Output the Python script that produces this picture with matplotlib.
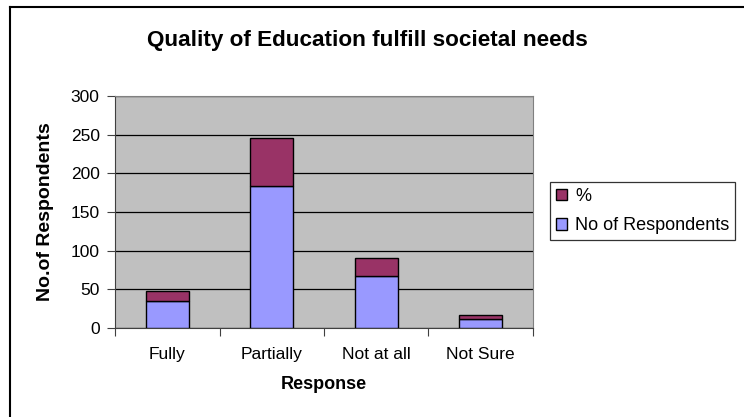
import numpy as np
import matplotlib
matplotlib.use('Agg')
import matplotlib.pyplot as plt
from matplotlib.lines import Line2D

plt.rcParams['font.family'] = ['Liberation Sans', 'DejaVu Sans']

categories = ['Fully', 'Partially', 'Not at all', 'Not Sure']
respondents = [35, 183, 67, 11]
percent = [13, 63, 23, 6]
yticks = [0, 50, 100, 150, 200, 250, 300]

fig = plt.figure(figsize=(7.44, 4.17), dpi=100)
ax = fig.add_axes([115/744, 1-328/417, (533-115)/744, (328-96)/417])
ax.set_facecolor('#C0C0C0')

x = np.arange(len(categories))
w = 0.41
b1 = ax.bar(x, respondents, w, color='#9999FF', edgecolor='black', linewidth=1,
            label='No of Respondents', zorder=3)
b2 = ax.bar(x, percent, w, bottom=respondents, color='#993366', edgecolor='black',
            linewidth=1, label='%', zorder=3)

ax.set_xlim(-0.5, 3.5)
ax.set_ylim(0, 300)
ax.set_yticks(yticks)
ax.set_yticklabels([str(t) for t in yticks], fontsize=12.5)
ax.yaxis.grid(True, color='black', linewidth=0.9, zorder=0)
ax.tick_params(axis='y', direction='out', length=6, width=0.8, color='#404040', pad=5)

# category ticks between bars, labels centered
ax.set_xticks(np.arange(-0.5, 4.0, 1.0))
ax.set_xticklabels([])
ax.set_xticks(x, minor=True)
ax.set_xticklabels(categories, minor=True, fontsize=12.5)
ax.tick_params(axis='x', which='major', direction='out', length=6, width=0.8, color='#404040')
ax.tick_params(axis='x', which='minor', length=0, pad=14)

for s in ['top', 'right']:
    ax.spines[s].set_color('#808080')
for s in ['left', 'bottom']:
    ax.spines[s].set_color('#404040')

ax.set_xlabel('Response', fontsize=13, fontweight='bold', labelpad=10)
ax.set_ylabel('No.of Respondents', fontsize=14, fontweight='bold', labelpad=12)

fig.text(147/744, 1-46/417, 'Quality of Education fulfill societal needs',
         fontsize=16.2, fontweight='bold', ha='left', va='baseline')

leg = fig.legend([b2, b1], ['%', 'No of Respondents'], loc='upper left',
                 bbox_to_anchor=(550/744, 1-182/417), fontsize=13, frameon=True,
                 fancybox=False, edgecolor='black', handlelength=0.62, handleheight=0.62,
                 handletextpad=0.45, borderpad=0.33, labelspacing=0.68, borderaxespad=0)
leg.get_frame().set_linewidth(0.9)

# outer chart border (left and top visible)
fig.add_artist(Line2D([10/744, 10/744], [0, 1-7/417], color='black', linewidth=1.5,
                      transform=fig.transFigure))
fig.add_artist(Line2D([10/744, 1], [1-7/417, 1-7/417], color='black', linewidth=1.5,
                      transform=fig.transFigure))

fig.savefig('out.png', dpi=100)
